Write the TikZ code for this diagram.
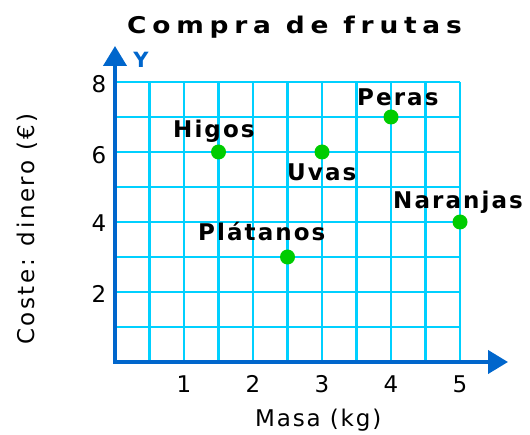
\documentclass[tikz,border=0pt]{standalone}
\usepackage{fontspec}
\setmainfont{DejaVu Sans}
\usetikzlibrary{arrows.meta}
\definecolor{gridcyan}{RGB}{0,208,255}
\definecolor{axisblue}{RGB}{0,102,204}
\definecolor{dotgreen}{RGB}{0,204,0}
\newfontfamily\titlefont[LetterSpace=25,FakeStretch=1.15]{DejaVu Sans Bold}
\newfontfamily\ptfont[LetterSpace=9]{DejaVu Sans Bold}
\newfontfamily\axfont[LetterSpace=8]{DejaVu Sans}
\newfontfamily\ylblfont[LetterSpace=11]{DejaVu Sans}
\tikzset{
  gridline/.style={draw=gridcyan, line width=2.2bp},
  axisline/.style={draw=axisblue, line width=4bp, line join=miter,
    {Triangle[length=20bp,width=23bp]}-{Triangle[length=20bp,width=23bp]}},
  fruitdot/.style={circle, fill=dotgreen, inner sep=0pt, minimum size=15bp},
  ptlabel/.style={anchor=base west, inner sep=0pt, font=\ptfont\fontsize{23bp}{25bp}\selectfont},
  ticklabel/.style={anchor=base, inner sep=0pt, font=\axfont\fontsize{23bp}{25bp}\selectfont},
}
\begin{document}
\begin{tikzpicture}[x=1bp,y=-1bp]
\useasboundingbox (0,0) rectangle (530,435);
% grid
\foreach \k in {1,...,10} {
  \draw[gridline] (115+34.5*\k,82) -- (115+34.5*\k,362);
}
\foreach \j in {1,...,8} {
  \draw[gridline] (115,362-35*\j) -- (460,362-35*\j);
}
% axes
\coordinate (O) at (115,362);
\coordinate (ytip) at (115,46);
\coordinate (xtip) at (508,362);
\draw[axisline] (ytip) -- (O) -- (xtip);
\node[text=axisblue, font=\bfseries\fontsize{21bp}{23bp}\selectfont, inner sep=0pt] (ylet) at (141,59.5) {Y};
% title
\node[anchor=base west, inner sep=0pt, font=\titlefont\fontsize{23bp}{25bp}\selectfont] (title) at (127,34) {Compra de frutas};
% tick labels
\node[ticklabel] (x1) at (184,392) {1};
\node[ticklabel] (x2) at (253,392) {2};
\node[ticklabel] (x3) at (322,392) {3};
\node[ticklabel] (x4) at (391,392) {4};
\node[ticklabel] (x5) at (460,392) {5};
\node[ticklabel] (y8) at (99,93) {8};
\node[ticklabel] (y6) at (99,164) {6};
\node[ticklabel] (y4) at (99,232) {4};
\node[ticklabel] (y2) at (99,302) {2};
% axis titles
\node[anchor=base west, inner sep=0pt, font=\axfont\fontsize{23bp}{25bp}\selectfont] (xtitle) at (255,426) {Masa (kg)};
\node[rotate=90, inner sep=0pt, font=\ylblfont\fontsize{23bp}{25bp}\selectfont] (ytitle) at (27,229) {Coste: dinero (€)};
% points
\node[fruitdot] (higos) at (218.5,152) {};
\node[fruitdot] (uvas) at (322,152) {};
\node[fruitdot] (peras) at (391,117) {};
\node[fruitdot] (naranjas) at (460,222) {};
\node[fruitdot] (platanos) at (287.5,257) {};
\node[ptlabel] (lhigos) at (173,138) {Higos};
\node[ptlabel] (luvas) at (287,181) {Uvas};
\node[ptlabel] (lperas) at (357,106) {Peras};
\node[ptlabel] (lnaranjas) at (393,209) {Naranjas};
\node[ptlabel] (lplatanos) at (198,241) {Plátanos};
\end{tikzpicture}
\end{document}
